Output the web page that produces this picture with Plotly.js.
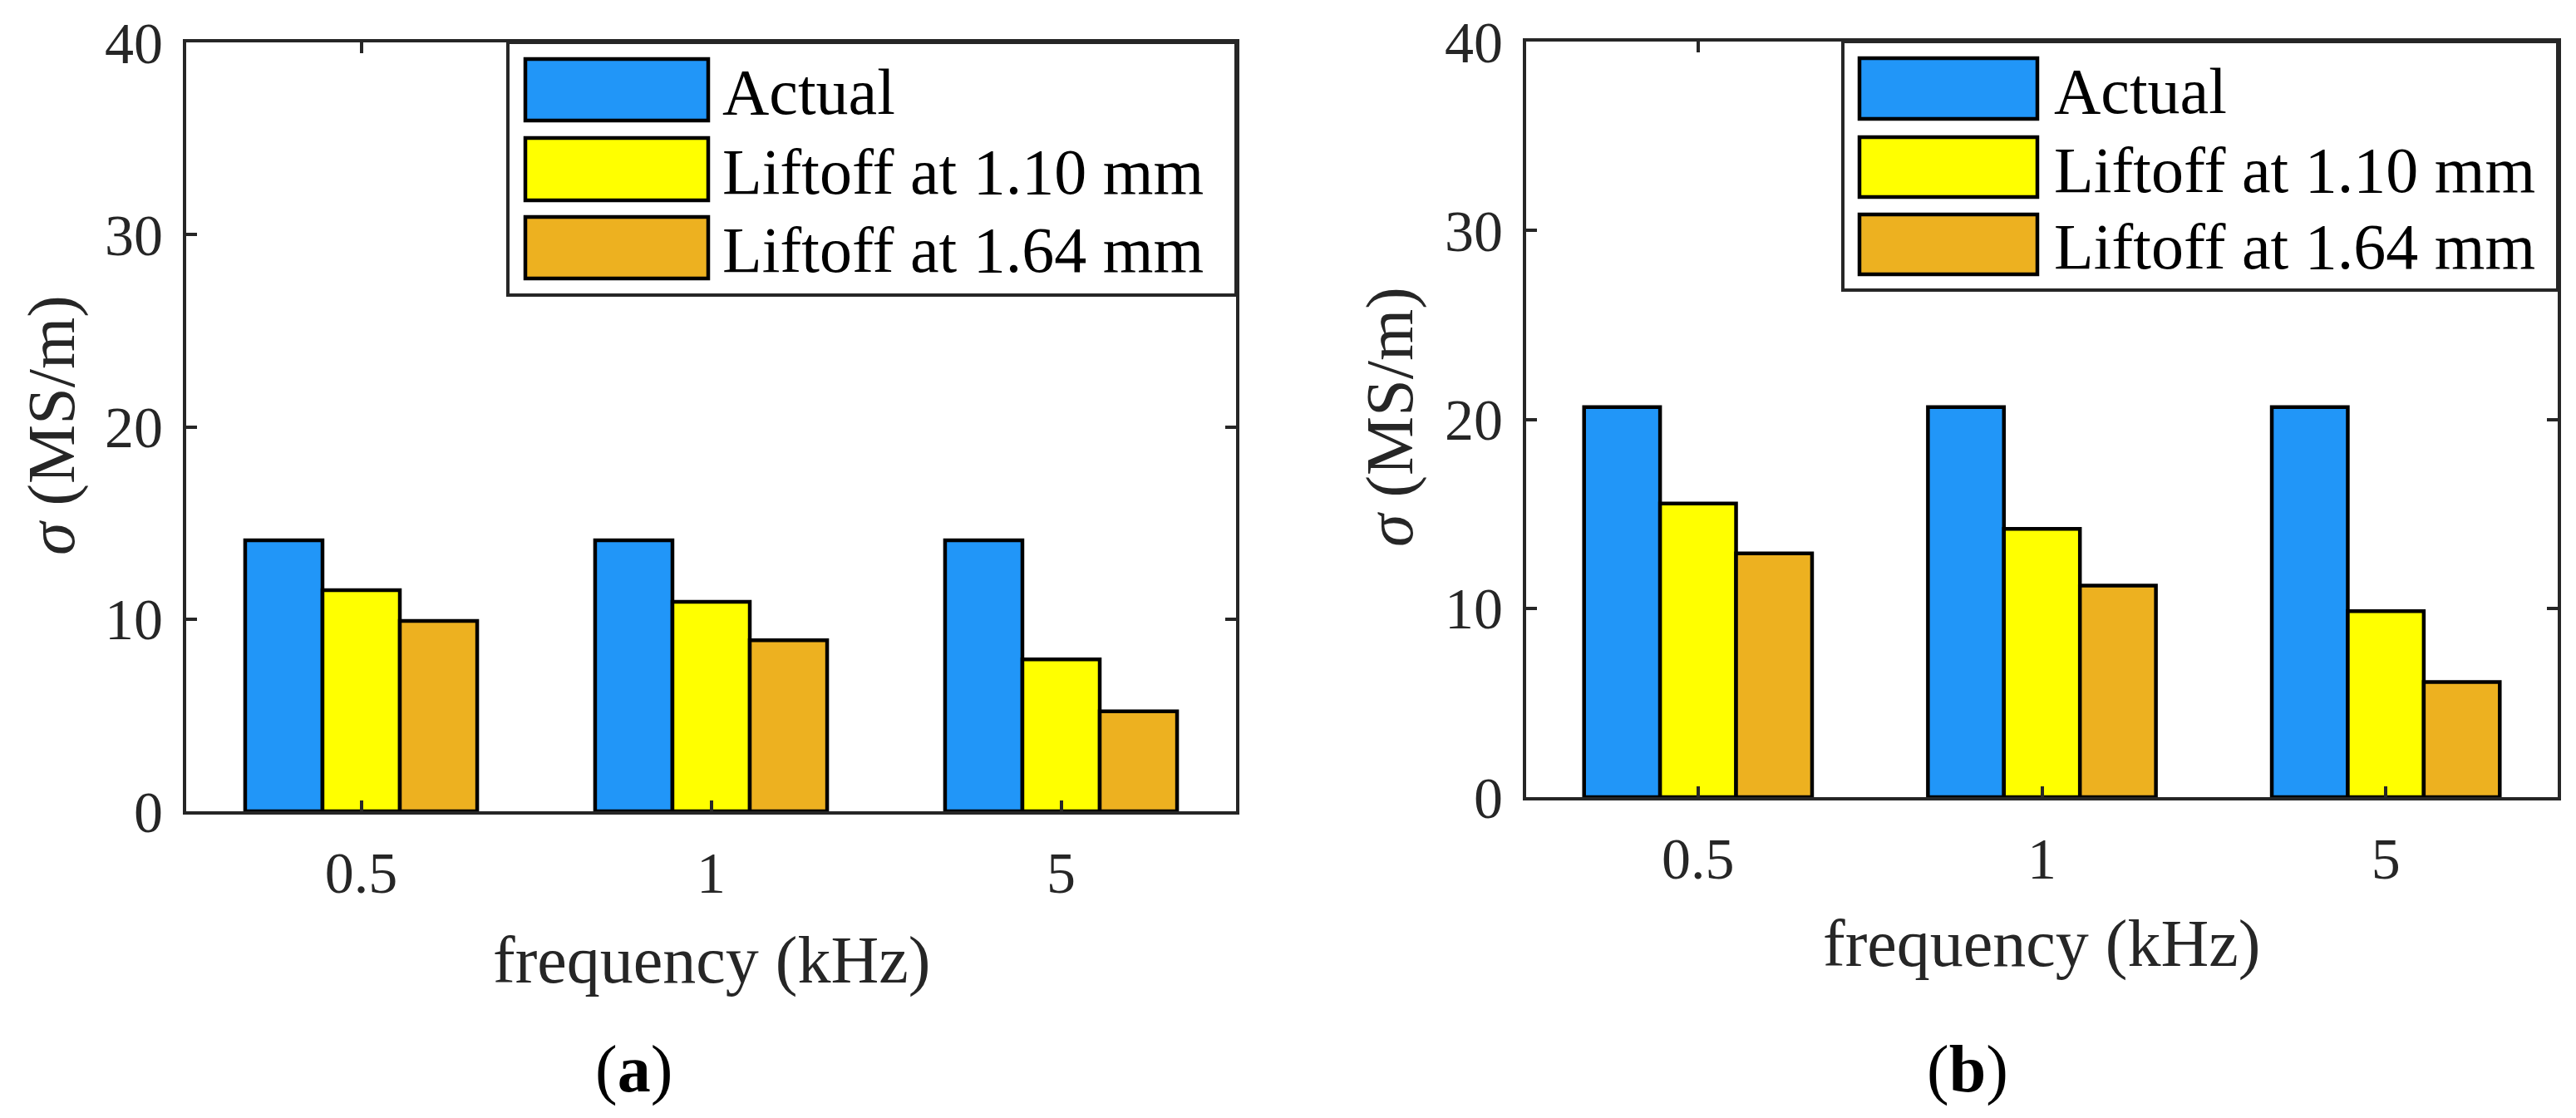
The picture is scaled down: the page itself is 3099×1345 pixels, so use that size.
<!DOCTYPE html>
<html>
<head>
<meta charset="utf-8">
<script src="https://cdn.plot.ly/plotly-3.0.1.min.js"></script>
<style>
  html, body { margin: 0; padding: 0; background: #fff; }
  #chart { width: 3099px; height: 1345px; }
</style>
</head>
<body>
<div id="chart"></div>
<script>
// data
var freqs = ['0.5', '1', '5'];
var seriesNames = ['Actual', 'Liftoff at 1.10 mm', 'Liftoff at 1.64 mm'];
var colors = ['#2196F8', '#FFFF00', '#EDB120'];

var actualA = [14.1, 14.1, 14.1];
var lift110A = [11.5, 10.9, 7.9];
var lift164A = [9.9, 8.9, 5.2];

var actualB = [20.65, 20.65, 20.65];
var lift110B = [15.55, 14.2, 9.85];
var lift164B = [12.9, 11.2, 6.1];

var W = 3099, H = 1345;
function px(x) { return x / W; }
function py(y) { return 1 - y / H; }

var serif = 'Liberation Serif';
var ink = '#262626';

function bars(vals, i, xa, ya) {
  return {
    type: 'bar', x: freqs, y: vals, name: seriesNames[i],
    xaxis: xa, yaxis: ya, showlegend: false,
    marker: { color: colors[i], line: { color: '#000', width: 4.5 } },
    hoverinfo: 'skip'
  };
}

var data = [
  bars(actualA, 0, 'x', 'y'), bars(lift110A, 1, 'x', 'y'), bars(lift164A, 2, 'x', 'y'),
  bars(actualB, 0, 'x2', 'y2'), bars(lift110B, 1, 'x2', 'y2'), bars(lift164B, 2, 'x2', 'y2')
];

function xax(domain, anchor) {
  return {
    domain: domain, anchor: anchor, type: 'category', range: [-0.5, 2.5],
    showline: true, linecolor: ink, linewidth: 4, mirror: 'ticks',
    ticks: 'inside', ticklen: 13, tickwidth: 4, tickcolor: ink,
    showgrid: false, zeroline: false,
    tickfont: { family: serif, size: 70, color: ink },
    ticklabelstandoff: 10
  };
}
function yax(domain, anchor) {
  return {
    domain: domain, anchor: anchor, range: [0, 40], dtick: 10,
    showline: true, linecolor: ink, linewidth: 4, mirror: 'ticks',
    ticks: 'inside', ticklen: 13, tickwidth: 4, tickcolor: ink,
    showgrid: false, zeroline: false,
    tickfont: { family: serif, size: 70, color: ink },
    ticklabelstandoff: 10
  };
}

// panel geometry in pixels
var panels = [
  { l: 224, r: 1487, t: 51, b: 976, leg: { l: 611, r: 1487, t: 51, b: 355, sl: 632, sr: 852, tx: 867, rows: [[71, 145], [166, 241], [261, 335]] },
    ytitle: [63, 512], xtitle: [856, 1155], tag: [762, 1286], tagText: '(<b>a</b>)' },
  { l: 1836, r: 3077, t: 50, b: 959, leg: { l: 2217, r: 3077, t: 50, b: 349, sl: 2237, sr: 2451, tx: 2469, rows: [[70, 143], [165, 237], [258, 330]] },
    ytitle: [1672, 502], xtitle: [2456, 1135], tag: [2367, 1286], tagText: '(<b>b</b>)' }
];

var shapes = [], annotations = [];
panels.forEach(function (p) {
  var g = p.leg;
  shapes.push({ type: 'rect', xref: 'paper', yref: 'paper',
    x0: px(g.l), x1: px(g.r), y0: py(g.b), y1: py(g.t),
    line: { color: ink, width: 4 }, fillcolor: '#fff' });
  g.rows.forEach(function (row, i) {
    shapes.push({ type: 'rect', xref: 'paper', yref: 'paper',
      x0: px(g.sl), x1: px(g.sr), y0: py(row[1]), y1: py(row[0]),
      line: { color: '#000', width: 4.5 }, fillcolor: colors[i] });
    annotations.push({ xref: 'paper', yref: 'paper', x: px(g.tx), y: py((row[0] + row[1]) / 2 + 3),
      xanchor: 'left', yanchor: 'middle', showarrow: false, text: seriesNames[i],
      font: { family: serif, size: 78, color: '#000' } });
  });
  annotations.push({ xref: 'paper', yref: 'paper', x: px(p.ytitle[0]), y: py(p.ytitle[1]),
    xanchor: 'center', yanchor: 'middle', showarrow: false, textangle: -90,
    text: '<i>σ</i> (MS/m)', font: { family: serif, size: 80, color: ink } });
  annotations.push({ xref: 'paper', yref: 'paper', x: px(p.xtitle[0]), y: py(p.xtitle[1]),
    xanchor: 'center', yanchor: 'middle', showarrow: false,
    text: 'frequency (kHz)', font: { family: serif, size: 80, color: ink } });
  annotations.push({ xref: 'paper', yref: 'paper', x: px(p.tag[0]), y: py(p.tag[1]),
    xanchor: 'center', yanchor: 'middle', showarrow: false,
    text: p.tagText, font: { family: serif, size: 80, color: '#000' } });
});

var layout = {
  width: W, height: H,
  margin: { l: 0, r: 0, t: 0, b: 0 },
  paper_bgcolor: '#fff', plot_bgcolor: '#fff',
  barmode: 'group', bargap: 0.337, bargroupgap: 0,
  xaxis: xax([px(panels[0].l), px(panels[0].r)], 'y'),
  yaxis: yax([py(panels[0].b), py(panels[0].t)], 'x'),
  xaxis2: xax([px(panels[1].l), px(panels[1].r)], 'y2'),
  yaxis2: yax([py(panels[1].b), py(panels[1].t)], 'x2'),
  shapes: shapes,
  annotations: annotations,
  showlegend: false
};

Plotly.newPlot('chart', data, layout, { staticPlot: true });
</script>
</body>
</html>
